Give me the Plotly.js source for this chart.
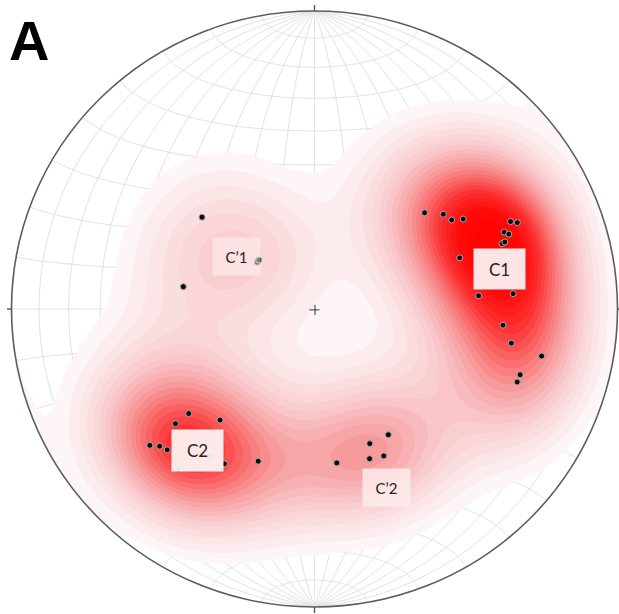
<!DOCTYPE html>
<html><head><meta charset="utf-8">
<script src="https://cdn.plot.ly/plotly-3.0.1.min.js"></script>
<style>html,body{margin:0;padding:0;background:#fff}#chart{width:619px;height:614px}</style>
</head><body><div id="chart"></div>
<script>
// Poles (trend, plunge in degrees), lower-hemisphere equal-area (Schmidt) net
const poleTrend  = [48.4,53.2,56.6,58.4,65.6,66.6,67.6,68.6,70.5,70.3,70.3,85.3,85.5,95.0,100.0,101.9,108.0,110.1,
                    309.7,279.8,309.7,311.8,
                    229.8,219.9,230.0,229.9,228.0,225.8,209.8,219.9,200.0,214.9,
                    171.9,158.0,150.0,160.1,155.1];
const polePlunge = [49.8,45.9,44.9,41.9,29.7,27.9,32.8,31.7,34.7,33.7,47.8,44.8,34.6,37.6,34.4,24.4,29.4,29.5,
                    50.1,53.8,70.0,69.9,
                    44.8,49.8,39.9,29.7,31.8,32.7,39.9,30.6,44.8,39.7,
                    46.7,49.7,49.7,45.6,44.8];
const clusterLabels = ['C\u20191','C1','C2','C\u20192'];
const panelLabel = 'A';

const D2R = Math.PI/180;
function project(t,p){
  const th=(90-p)*D2R, r=Math.SQRT2*Math.sin(th/2);
  return [r*Math.sin(t*D2R), r*Math.cos(t*D2R)];
}
function vec(t,p){
  return [Math.cos(p*D2R)*Math.sin(t*D2R), Math.cos(p*D2R)*Math.cos(t*D2R), Math.sin(p*D2R)];
}

// net grid (10 degree Schmidt net) as a path drawn beneath the traces
function netXY(lam,phi){
  const x=Math.cos(phi*D2R)*Math.sin(lam*D2R), y=Math.sin(phi*D2R), z=Math.cos(phi*D2R)*Math.cos(lam*D2R);
  const k=1/Math.sqrt(1+z); return [x*k,y*k];
}
const segs=[];
function addLine(pts){ segs.push('M'+pts.map(q=>q[0].toFixed(4)+','+q[1].toFixed(4)).join('L')); }
for(let lam=-80;lam<=80;lam+=10){ const pts=[]; for(let phi=-90;phi<=90;phi+=1) pts.push(netXY(lam,phi)); addLine(pts); }
for(let phi=-80;phi<=80;phi+=10){ const pts=[]; for(let lam=-90;lam<=90;lam+=1) pts.push(netXY(lam,phi)); addLine(pts); }
const gridPath=segs.join(' ');

// poles projected
const px=[], py=[], pv=[];
for(let i=0;i<poleTrend.length;i++){ const q=project(poleTrend[i],polePlunge[i]); px.push(q[0]); py.push(q[1]); pv.push(vec(poleTrend[i],polePlunge[i])); }

// density (exponential Kamb-like kernel on the sphere)
const kappa=16, N=181, lim=1.04;
const xs=[], ys=[], zz=[];
for(let i=0;i<N;i++){ xs.push(-lim+2*lim*i/(N-1)); ys.push(-lim+2*lim*i/(N-1)); }
let zmax=0;
for(let j=0;j<N;j++){
  const row=[];
  for(let i=0;i<N;i++){
    const X=xs[i], Y=ys[j], r=Math.hypot(X,Y);
    const th=2*Math.asin(Math.min(r/Math.SQRT2,1));
    const s=r>0?Math.sin(th)/r:0;
    const e=X*s, n=Y*s, d=Math.cos(th);
    let v=0;
    for(const w of pv){ const c=Math.abs(e*w[0]+n*w[1]+d*w[2]); v+=Math.exp(kappa*(c-1)); }
    row.push(v); if(r<=1 && v>zmax) zmax=v;
  }
  zz.push(row);
}
const nc=25, cstart=0.062*zmax, csize=(zmax-cstart)/nc;

const circ=[];
for(let a=0;a<=360;a+=1){ circ.push((Math.cos(a*D2R)).toFixed(5)+','+(Math.sin(a*D2R)).toFixed(5)); }
const maskPath='M-3,-3L3,-3L3,3L-3,3Z M'+circ.join('L')+'Z';

const traces=[
  {type:'contour', x:xs, y:ys, z:zz, showscale:false, hoverinfo:'skip',
   contours:{coloring:'fill', showlines:false, start:cstart, end:zmax, size:csize},
   line:{width:0, smoothing:1},
   colorscale:[[0,'rgba(255,255,255,0)'],[0.02,'rgba(255,255,255,0)'],[0.04,'rgb(253,243,244)'],[0.12,'rgb(251,228,230)'],
               [0.25,'rgb(249,202,205)'],[0.4,'rgb(247,162,164)'],[0.55,'rgb(249,108,109)'],[0.7,'rgb(252,48,48)'],
               [0.85,'rgb(255,10,10)'],[1,'rgb(255,0,0)']]},
  {type:'scatter', x:px, y:py, mode:'markers', marker:{size:6, color:'#0a0a0a', line:{color:'#a8a8a8', width:1}}, hoverinfo:'skip', showlegend:false}
];

const ln={color:'#555', width:1.4};
const layout={
  width:619, height:614, margin:{l:0,r:0,t:0,b:0}, paper_bgcolor:'#fff', plot_bgcolor:'#fff', showlegend:false,
  xaxis:{range:[-314.5/303, 304.5/303], visible:false, fixedrange:true},
  yaxis:{range:[-305/298, 309/298], visible:false, fixedrange:true},
  shapes:[
    {type:'path', path:gridPath, xref:'x', yref:'y', line:{color:'#e2e2e2', width:1}, layer:'below'},
    {type:'path', path:maskPath, xref:'x', yref:'y', fillcolor:'#fff', fillrule:'evenodd', line:{width:0}, layer:'above'},
    {type:'circle', x0:-1, x1:1, y0:-1, y1:1, xref:'x', yref:'y', line:{color:'#5c5c5c', width:1.6}, layer:'above'},
    {type:'line', x0:0, x1:0, y0:1, y1:1.02, line:ln, layer:'above'},
    {type:'line', x0:0, x1:0, y0:-1, y1:-1.02, line:ln, layer:'above'},
    {type:'line', x0:-1, x1:-1.015, y0:0, y1:0, line:ln, layer:'above'},
    {type:'line', x0:1, x1:1.015, y0:0, y1:0, line:ln, layer:'above'},
    {type:'line', x0:-0.0165, x1:0.0165, y0:-0.003, y1:-0.003, line:{color:'#333',width:1}, layer:'above'},
    {type:'line', x0:0.0017, x1:0.0017, y0:-0.02, y1:0.014, line:{color:'#333',width:1}, layer:'above'}
  ],
  annotations:[
    {text:clusterLabels[0], xref:'x', yref:'y', x:-0.2564, y:0.1762, showarrow:false, width:47, height:37, borderpad:0,
     bgcolor:'rgba(255,246,246,0.5)', font:{family:'Lato', size:15, color:'#222'}},
    {text:clusterLabels[1], xref:'x', yref:'y', x:0.6106, y:0.1332, showarrow:false, width:51, height:40, borderpad:0,
     bgcolor:'rgba(253,242,242,0.94)', font:{family:'Lato', size:17, color:'#222'}},
    {text:clusterLabels[2], xref:'x', yref:'y', x:-0.3851, y:-0.4732, showarrow:false, width:51, height:41, borderpad:0,
     bgcolor:'rgba(253,243,243,0.94)', font:{family:'Lato', size:17, color:'#222'}},
    {text:clusterLabels[3], xref:'x', yref:'y', x:0.2386, y:-0.6000, showarrow:false, width:47, height:37, borderpad:0,
     bgcolor:'rgba(253,238,238,0.8)', font:{family:'Lato', size:15, color:'#222'}},
    {text:'<b>'+panelLabel+'</b>', xref:'paper', yref:'paper', x:29/619, y:1-40/614, xanchor:'center', yanchor:'middle', showarrow:false,
     font:{family:'Liberation Sans', size:56, color:'#000'}}
  ]
};
Plotly.newPlot('chart', traces, layout, {staticPlot:true, displayModeBar:false});
</script></body></html>
